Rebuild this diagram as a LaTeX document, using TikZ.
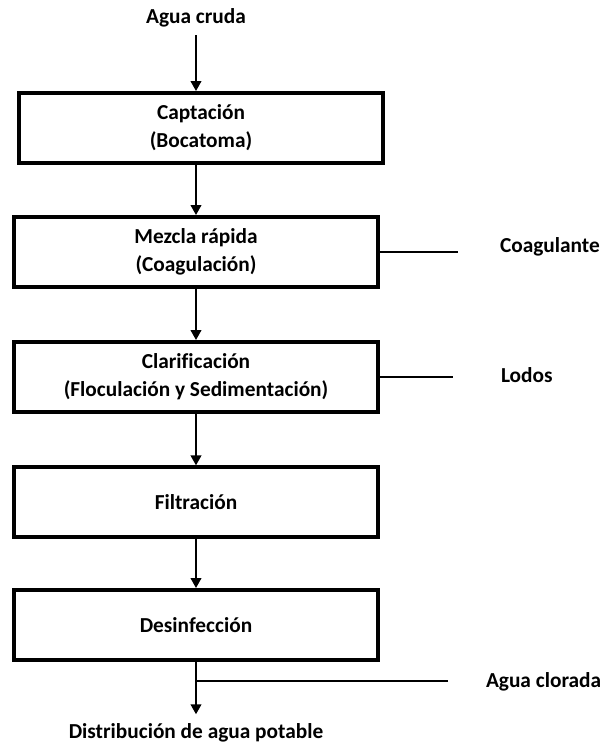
\documentclass[tikz,border=0pt]{standalone}
\usepackage{fontspec}
\setmainfont{Carlito}[Ligatures=NoCommon]
\usetikzlibrary{arrows.meta}

\begin{document}
\begin{tikzpicture}[
        x = 0.75pt, y = -0.75pt, % pixel grid
        > = {Triangle[length=7.5pt,width=8pt]}, % arrow head style
        node distance = 93pt, % distance between stages
        line width = 1.5pt,
        font = \bfseries\fontsize{16}{21}\selectfont
      ]

      \tikzstyle{etapa}=[rectangle,draw=black,line width=3pt,minimum width=273pt,minimum height=52.5pt,align=center,inner sep=0pt]
      \tikzstyle{lateral}=[anchor=west,inner sep=0pt]

      \useasboundingbox (0,0) rectangle (605,744);

      \node (cruda) at (196,18) {Agua cruda};
      \node[etapa] (cap) [below of=cruda, node distance=82.5pt, xshift=3.75pt] {Captación\\(Bocatoma)};
      \node[etapa] (mez) [below of=cap, xshift=-3.75pt] {Mezcla rápida\\(Coagulación)};
      \node[etapa] (cla) [below of=mez, node distance=93.75pt] {Clarificación\\(Floculación y Sedimentación)};
      \node[etapa] (fil) [below of=cla, node distance=94pt] {Filtración};
      \node[etapa] (des) [below of=fil, node distance=92pt] {Desinfección};
      \node (dist) [below of=des, node distance=81pt] {Distribución de agua potable};

      \node[lateral] (coag) at (499,247) {Coagulante};
      \node[lateral] (lodos) at (500,375) {Lodos};
      \node[lateral] (clor) at (485,682) {Agua clorada};

      \coordinate (coagfin) at (458,252);
      \coordinate (lodosfin) at (453,377);
      \coordinate (clorfin) at (448,681);

      \draw[->, shorten <=2pt] (cruda.south) -- (cruda.south |- cap.north);
      \draw[->] (mez.north |- cap.south) -- (mez.north);
      \draw[->] (mez.south) -- (cla.north);
      \draw[->] (cla.south) -- (fil.north);
      \draw[->] (fil.south) -- (des.north);
      \draw[->, shorten >=3pt] (des.south) -- (dist.north);

      \draw (mez.east) -- (coagfin);
      \draw (cla.east) -- (lodosfin);
      \draw (clorfin) -- (des.south |- clorfin);

    \end{tikzpicture}
\end{document}
